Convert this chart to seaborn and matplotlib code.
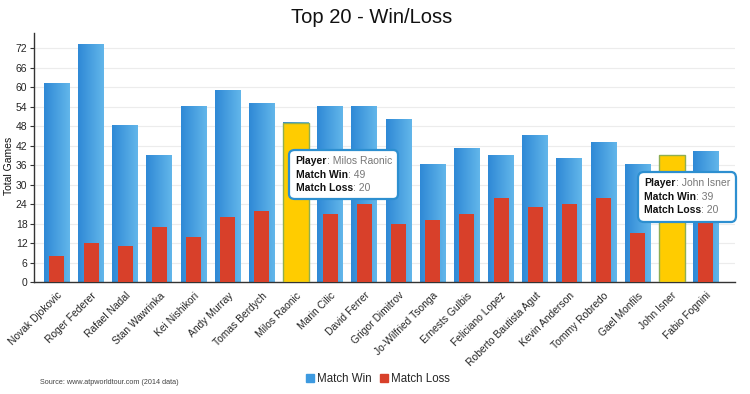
import numpy as np
import pandas as pd
import matplotlib
matplotlib.use("Agg")
import matplotlib.pyplot as plt
import seaborn as sns
from matplotlib.lines import Line2D
from matplotlib.offsetbox import TextArea, HPacker, VPacker, AnnotationBbox
from matplotlib.colors import LinearSegmentedColormap

# data (2014 season)
players = ["Novak Djokovic", "Roger Federer", "Rafael Nadal", "Stan Wawrinka",
           "Kei Nishikori", "Andy Murray", "Tomas Berdych", "Milos Raonic",
           "Marin Cilic", "David Ferrer", "Grigor Dimitrov", "Jo-Wilfried Tsonga",
           "Ernests Gulbis", "Feliciano Lopez", "Roberto Bautista Agut",
           "Kevin Anderson", "Tommy Robredo", "Gael Monfils", "John Isner",
           "Fabio Fognini"]
wins = [61, 73, 48, 39, 54, 59, 55, 49, 54, 54, 50, 36, 41, 39, 45, 38, 43, 36, 39, 40]
losses = [8, 12, 11, 17, 14, 20, 22, 20, 21, 24, 18, 19, 21, 26, 23, 24, 26, 15, 20, 25]
highlighted = ["Milos Raonic", "John Isner"]
yticks = list(range(0, 73, 6))

df = pd.DataFrame({"player": players, "win": wins, "loss": losses})
hl = df[df["player"].isin(highlighted)]

sns.set_style("white")
plt.rcParams["font.family"] = ["Liberation Sans", "DejaVu Sans"]

fig = plt.figure(figsize=(7.5, 3.94), dpi=100)
ax = fig.add_axes([0.045, 0.284, 0.935, 0.632])

BLUE = "#3d9ae0"
RED = "#d8402a"
YELLOW = "#ffcc00"

# win bars
sns.barplot(data=df, x="player", y="win", order=players, color=BLUE,
            width=0.76, saturation=1, ax=ax, zorder=2, linewidth=0)
win_patches = list(ax.patches)

# gradient fill on the blue bars
grad = LinearSegmentedColormap.from_list("g", ["#2f89d6", "#62b6ea"])
for p in win_patches:
    x0, y0 = p.get_x(), p.get_y()
    w, h = p.get_width(), p.get_height()
    ax.imshow(np.linspace(0, 1, 50).reshape(1, -1), cmap=grad, aspect="auto",
              extent=(x0, x0 + w, y0, y0 + h), zorder=2.5, interpolation="bilinear")

# loss bars
sns.barplot(data=df, x="player", y="loss", order=players, color=RED,
            width=0.44, saturation=1, ax=ax, zorder=3, linewidth=0)

# highlighted (hovered) bars
sns.barplot(data=hl, x="player", y="win", order=players, color=YELLOW,
            width=0.76, saturation=1, ax=ax, zorder=4,
            edgecolor="#8fae52", linewidth=1)

ax.set_xlim(-0.68, len(players) - 0.15)
ax.set_ylim(0, 76.6)
ax.set_yticks(yticks)
ax.set_yticklabels([str(t) for t in yticks], fontsize=7.5)
ax.yaxis.grid(True, color="#ececec", linewidth=0.8, zorder=0)
ax.set_axisbelow(True)

ax.set_xlabel("")
ax.set_ylabel("")
fig.text(0.012, 0.58, "Total Games", rotation=90, ha="center", va="center",
         fontsize=7.5, color="#111111")
ax.set_xticks(range(len(players)))
ax.set_xticklabels(players, rotation=45, ha="right", rotation_mode="anchor",
                   fontsize=7.4)
ax.tick_params(axis="x", length=3, color="#d8402a", pad=3)
ax.tick_params(axis="y", length=3, color="#333333", pad=1.5, left=True)

for s in ["top", "right"]:
    ax.spines[s].set_visible(False)
ax.spines["left"].set_color("#333333")
ax.spines["left"].set_linewidth(1)
ax.spines["bottom"].set_color("#333333")
ax.spines["bottom"].set_linestyle((0, (3, 1)))
ax.spines["bottom"].set_linewidth(1)

fig.text(0.495, 0.955, "Top 20 - Win/Loss", ha="center", va="center",
         fontsize=14.5, color="#111111")


# tooltips
def tooltip(name, win, loss, xy):
    rows = []
    for key, val in [("Player", name), ("Match Win", win), ("Match Loss", loss)]:
        k = TextArea(key, textprops=dict(fontsize=7.5, fontweight="bold",
                                         color="#111111"))
        v = TextArea(": " + str(val), textprops=dict(fontsize=7.5, color="#777777"))
        rows.append(HPacker(children=[k, v], pad=0, sep=0, align="baseline"))
    box = VPacker(children=rows, pad=0, sep=2.5, align="left")
    ab = AnnotationBbox(box, xy, xycoords="data", frameon=True, pad=0.45,
                        box_alignment=(0.5, 0.5), zorder=10,
                        bboxprops=dict(boxstyle="round,pad=0.45,rounding_size=0.4",
                                       ec="#2d8fd0", fc="white", lw=1.6))
    ax.add_artist(ab)


tooltip("Milos Raonic", 49, 20, (8.4, 33.1))
tooltip("John Isner", 39, 20, (18.45, 26.2))

# legend
handles = [Line2D([], [], marker="s", linestyle="", color=BLUE, markersize=5.5),
           Line2D([], [], marker="s", linestyle="", color=RED, markersize=5.5)]
fig.legend(handles, ["Match Win", "Match Loss"], loc="center",
           bbox_to_anchor=(0.503, 0.038), ncol=2, frameon=False, fontsize=8.3,
           handletextpad=0.1, columnspacing=0.6, handlelength=1)

fig.text(0.053, 0.028, "Source: www.atpworldtour.com (2014 data)", fontsize=5.2,
         color="#444444", va="center")

fig.savefig("out.png", dpi=100)
